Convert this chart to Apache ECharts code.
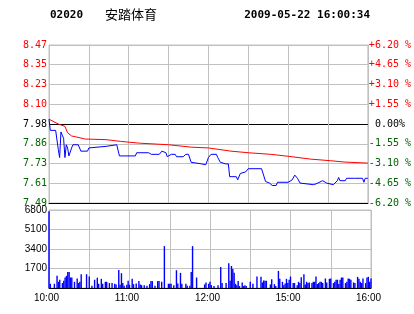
<!DOCTYPE html>
<html>
<head>
<meta charset="utf-8">
<script src="https://cdn.jsdelivr.net/npm/echarts@6/dist/echarts.min.js"></script>
<style>
  html, body { margin: 0; padding: 0; background: #fff; }
  #chart { width: 414px; height: 314px; }
</style>
</head>
<body>
<div id="chart"></div>
<script>
// ---- header texts ----
var stockCode = '02020';
var stockName = '安踏体育';
var timestamp = '2009-05-22 16:00:34';

// ---- reference price (previous close) ----
var prevClose = 7.98;

// ---- time axis (trading minutes from 10:00) ----
var timeLabelMinutes = [0, 60, 120, 180, 240];
var timeLabels = ['10:00', '11:00', '12:00', '15:00', '16:00'];

// ---- price line (blue) ----
var priceMinutes = [0, 1, 5, 7, 8, 9, 10, 11, 12, 13, 14, 15, 16, 17, 18, 22, 24, 29, 30, 43, 44, 51, 53, 65, 66, 75, 77, 83, 85, 88, 89, 92, 95, 96, 101, 103, 105, 107, 115, 118, 120, 122, 126, 127, 129, 133, 135, 136, 141, 142, 144, 148, 150, 160, 163, 166, 168, 171, 172, 180, 183, 185, 187, 189, 199, 201, 206, 209, 214, 217, 218, 219, 223, 224, 225, 230, 236, 237, 238, 240];
var priceValues  = [8.01, 7.94, 7.94, 7.82, 7.77, 7.93, 7.91, 7.89, 7.77, 7.85, 7.83, 7.78, 7.77, 7.83, 7.85, 7.85, 7.81, 7.81, 7.83, 7.84, 7.85, 7.85, 7.78, 7.78, 7.80, 7.80, 7.79, 7.79, 7.81, 7.80, 7.775, 7.79, 7.79, 7.775, 7.775, 7.79, 7.79, 7.74, 7.73, 7.725, 7.77, 7.79, 7.79, 7.77, 7.74, 7.73, 7.73, 7.65, 7.65, 7.63, 7.67, 7.68, 7.70, 7.70, 7.62, 7.61, 7.595, 7.595, 7.615, 7.615, 7.63, 7.66, 7.64, 7.61, 7.60, 7.605, 7.625, 7.61, 7.60, 7.625, 7.645, 7.625, 7.625, 7.64, 7.63, 7.64, 7.64, 7.615, 7.64, 7.64];

// ---- average price line (red) ----
var avgMinutes = [0, 7, 12, 14, 17, 20, 27, 43, 54, 68, 90, 107, 120, 137, 150, 167, 180, 197, 212, 222, 240];
var avgValues  = [8.01, 7.98, 7.965, 7.925, 7.905, 7.90, 7.886, 7.882, 7.871, 7.86, 7.85, 7.835, 7.83, 7.81, 7.80, 7.79, 7.778, 7.76, 7.75, 7.742, 7.735];

// ---- volume bars ----
var volMinutes = [0,1,4,6,7,8,10,11,12,13,14,15,16,17,19,21,22,23,24,28,30,32,34,36,37,39,40,42,43,45,47,49,50,52,53,54,55,56,58,59,60,62,63,65,67,68,69,71,73,75,76,77,79,81,82,84,86,89,90,91,93,95,96,98,99,102,103,105,106,107,110,116,117,119,120,121,123,126,128,129,132,134,135,136,137,138,139,140,141,142,144,145,146,147,150,152,155,158,159,160,161,162,165,166,168,169,171,172,174,175,176,177,178,179,180,182,183,185,186,187,188,190,191,192,193,194,196,197,198,199,200,201,202,203,204,206,207,209,210,212,213,214,215,216,217,218,219,221,222,223,224,225,227,228,230,231,232,233,234,236,237,238,239,240];
var volValues  = [6700,370,370,1060,540,720,430,630,915,1060,1400,1400,915,915,540,830,430,540,1200,1200,1000,200,720,890,370,800,370,540,540,430,430,370,310,1580,290,1290,430,200,290,630,290,810,340,400,600,310,250,250,200,340,600,600,200,600,600,540,3650,370,370,370,250,1550,400,1320,370,370,200,200,1400,3650,915,310,480,370,540,250,170,250,1840,430,430,2160,630,1920,1660,1320,370,250,600,170,480,170,250,170,540,370,1000,970,480,660,630,630,310,770,340,170,1490,800,540,250,400,800,430,720,1000,430,430,250,540,430,940,1200,310,540,430,480,430,540,540,1000,340,430,540,540,430,830,480,800,830,430,540,720,720,340,720,915,915,430,540,830,800,720,480,430,970,800,540,430,830,430,915,970,540,830];

// ---- axis ticks ----
var pctMin = -6.2, pctMax = 6.2, pctStep = 1.55;
var volMax = 6800, volStep = 1700;

var RED = '#ff0000', GREEN = '#006400', BLUE = '#0000ff', GRID = '#c0c0c0';
var MONO = 'DejaVu Sans Mono';
var SANS = 'Liberation Sans';

function toPct(p) { return (p / prevClose - 1) * 100; }
function zip(xs, ys, f) { return xs.map(function (x, i) { return [x, f ? f(ys[i]) : ys[i]]; }); }
function isZero(v) { return Math.abs(v) < 1e-6; }
function pctColor(v) { v = Number(v); return isZero(v) ? '#000' : (v > 0 ? RED : GREEN); }

var chart = echarts.init(document.getElementById('chart'), null, { renderer: 'canvas' });

var splitColors = [];
var nTicks = Math.round((pctMax - pctMin) / pctStep) + 1;
for (var i = 0; i < nTicks; i++) {
  var v = pctMin + i * pctStep;
  splitColors.push(isZero(v) || i === 0 ? '#000' : GRID);
}

function timeAxis(gridIndex, showLabels) {
  return {
    type: 'value', gridIndex: gridIndex, min: 0, max: 240, interval: 30,
    axisLine: { show: true, onZero: false, lineStyle: { color: '#000', width: 1 } },
    axisTick: { show: false },
    splitLine: { show: true, lineStyle: { color: GRID, width: 1 } },
    axisLabel: {
      show: showLabels, margin: 5, fontFamily: SANS, fontSize: 10, color: '#000',
      padding: [0, 5, 0, 0],
      formatter: function (val) {
        var k = timeLabelMinutes.indexOf(Math.round(val));
        return k >= 0 ? timeLabels[k] : '';
      }
    }
  };
}

chart.setOption({
  animation: false,
  backgroundColor: '#fff',
  grid: [
    { left: 49, top: 45, width: 322, height: 158, show: true, borderColor: GRID, borderWidth: 1 },
    { left: 49, top: 210, width: 322, height: 78, show: true, borderColor: GRID, borderWidth: 1 }
  ],
  xAxis: [timeAxis(0, false), timeAxis(1, true)],
  yAxis: [
    {
      type: 'value', gridIndex: 0, position: 'left', min: pctMin, max: pctMax, interval: pctStep,
      axisLine: { show: true, lineStyle: { color: GRID } },
      axisTick: { show: false },
      splitLine: { show: true, lineStyle: { color: splitColors, width: 1 } },
      axisLabel: {
        margin: 2, fontFamily: MONO, fontSize: 10,
        color: function (v) { return pctColor(v); },
        formatter: function (v) { return (prevClose * (1 + v / 100)).toFixed(2); }
      }
    },
    {
      type: 'value', gridIndex: 0, position: 'right', min: pctMin, max: pctMax, interval: pctStep,
      axisLine: { show: true, lineStyle: { color: GRID } },
      axisTick: { show: false },
      splitLine: { show: false },
      axisLabel: {
        margin: 1, fontFamily: MONO, fontSize: 10,
        color: function (v) { return pctColor(v); },
        formatter: function (v) {
          if (isZero(v)) return ' 0.00%';
          return (v > 0 ? '+' : '-') + Math.abs(v).toFixed(2) + ' %';
        }
      }
    },
    {
      type: 'value', gridIndex: 1, position: 'left', min: 0, max: volMax, interval: volStep,
      axisLine: { show: true, lineStyle: { color: GRID } },
      axisTick: { show: false },
      splitLine: { show: true, lineStyle: { color: GRID, width: 1 } },
      axisLabel: {
        margin: 2, fontFamily: SANS, fontSize: 10, color: '#000',
        padding: [4, 0, 0, 0],
        formatter: function (v) { return v === 0 ? '' : String(v); }
      }
    }
  ],
  series: [
    {
      type: 'line', xAxisIndex: 0, yAxisIndex: 0, symbol: 'none', z: 3,
      lineStyle: { color: RED, width: 1 },
      data: zip(avgMinutes, avgValues, toPct)
    },
    {
      type: 'line', xAxisIndex: 0, yAxisIndex: 0, symbol: 'none', z: 4,
      lineStyle: { color: BLUE, width: 1 },
      data: zip(priceMinutes, priceValues, toPct)
    },
    {
      type: 'bar', xAxisIndex: 1, yAxisIndex: 2, barWidth: 1.4, z: 3,
      itemStyle: { color: BLUE },
      data: zip(volMinutes, volValues)
    }
  ],
  graphic: [
    { type: 'text', left: 50, top: 10, style: { text: stockCode, font: 'bold 11px "DejaVu Sans Mono"', fill: '#000' } },
    { type: 'text', left: 105, top: 8, style: { text: stockName, font: '13px "Noto Sans CJK SC"', fill: '#000' } },
    { type: 'text', right: 44, top: 10, style: { text: timestamp, font: 'bold 11px "DejaVu Sans Mono"', fill: '#000' } }
  ]
});
</script>
</body>
</html>
